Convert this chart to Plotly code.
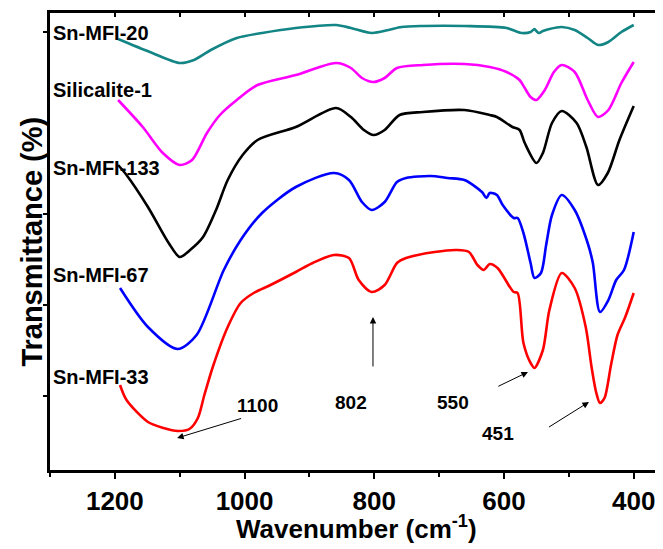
import plotly.graph_objects as go

# ---------------- data ----------------
wn_20 = [1195, 1146, 1100, 1078, 1052, 1012, 973, 921, 859, 836, 804, 778, 758, 725,
         661, 596, 573, 559, 553, 550, 546, 540, 530, 511, 491, 471, 455, 439, 419, 400]
t_20 = [431, 418, 407, 410, 420, 432, 437, 442, 445, 442, 437, 440, 443, 444,
        444, 442, 437, 438, 441, 439, 437, 439, 441, 443, 440, 432, 425, 428, 438, 445]

wn_s1 = [1195, 1157, 1126, 1100, 1081, 1058, 1038, 1012, 980, 921, 859, 836, 819, 801,
         784, 765, 725, 661, 622, 596, 576, 568, 559, 550, 537, 523, 511, 491, 471,
         455, 439, 419, 400]
t_s1 = [370, 343, 317, 305, 310, 337, 355, 370, 385, 395, 407, 402, 392, 388,
        392, 402, 405, 406, 403, 398, 390, 382, 373, 370, 380, 398, 405, 398, 370,
        353, 360, 387, 408]

wn_133 = [1195, 1182, 1149, 1117, 1100, 1084, 1064, 1044, 1026, 1003, 980, 921, 859,
          836, 816, 801, 784, 761, 725, 661, 622, 611, 587, 576, 568, 550, 540, 526,
          511, 488, 473, 455, 440, 422, 400]
t_133 = [305, 295, 263, 227, 213, 220, 233, 260, 290, 315, 330, 343, 362,
         353, 340, 335, 340, 355, 358, 360, 355, 353, 343, 340, 327, 307, 317, 347,
         359, 347, 323, 285, 297, 330, 364]

wn_67 = [1192, 1149, 1103, 1074, 1032, 1006, 973, 921, 862, 839, 819, 804, 784, 765,
         751, 713, 687, 661, 634, 627, 622, 611, 602, 585, 579, 570, 559, 553, 543,
         535, 526, 511, 491, 471, 463, 452, 439, 427, 415, 400]
t_67 = [182, 143, 121, 135, 200, 230, 257, 283, 297, 290, 268, 260, 268, 288,
        292, 294, 292, 290, 278, 272, 277, 275, 265, 252, 252, 237, 207, 192, 197,
        225, 255, 275, 260, 227, 207, 158, 170, 190, 200, 238]

wn_33 = [1192, 1182, 1149, 1125, 1103, 1085, 1072, 1062, 1048, 1026, 1006, 986, 960,
         921, 895, 862, 839, 824, 804, 784, 765, 751, 707, 673, 654, 641, 631, 622,
         610, 591, 585, 579, 570, 559, 553, 540, 530, 511, 491, 474, 465, 458, 452,
         445, 435, 425, 413, 400]
t_33 = [85, 70, 48, 42, 39, 41, 52, 75, 105, 143, 167, 177, 185,
        198, 207, 215, 212, 190, 178, 185, 207, 212, 218, 220, 218, 205, 200, 206,
        202, 183, 178, 177, 127, 107, 102, 120, 160, 197, 182, 143, 103, 78, 67,
        72, 105, 135, 153, 177]

series = [
    ("Sn-MFI-20", wn_20, t_20, "#138585"),
    ("Silicalite-1", wn_s1, t_s1, "#ff00ff"),
    ("Sn-MFI-133", wn_133, t_133, "#000000"),
    ("Sn-MFI-67", wn_67, t_67, "#0000ff"),
    ("Sn-MFI-33", wn_33, t_33, "#ff0000"),
]

# curve labels: (text, y position)
label_text = ["Sn-MFI-20", "Silicalite-1", "Sn-MFI-133", "Sn-MFI-67", "Sn-MFI-33"]
label_y = [437, 380, 302, 195, 93]

# peak annotations
peak_text = ["1100", "802", "550", "451"]
peak_text_x = [980, 836, 679, 610]
peak_text_y = [65, 68, 68, 37]
arrow_head_x = [1104, 802, 563, 469]
arrow_head_y = [32, 153, 98, 68]
arrow_tail_x = [1003, 802, 611, 533]
arrow_tail_y = [52, 102, 83, 42]

x_range = [1300, 361]
y_range = [0, 457]
x_ticks = [1200, 1000, 800, 600, 400]

FONT = "Arial, Liberation Sans, sans-serif"

fig = go.Figure()
for name, wx, ty, col in series:
    fig.add_trace(go.Scatter(x=wx, y=ty, mode="lines", name=name,
                             line=dict(color=col, width=2.6, shape="spline", smoothing=0.8),
                             showlegend=False, hoverinfo="skip"))
# empty trace to create overlay (top/right) axes
fig.add_trace(go.Scatter(x=[], y=[], xaxis="x2", yaxis="y2", showlegend=False))

for txt, yy in zip(label_text, label_y):
    fig.add_annotation(text=txt, xref="paper", x=0, xanchor="left", xshift=1,
                       yref="y", y=yy, yanchor="middle", showarrow=False,
                       font=dict(family=FONT, size=20, color="black", weight="bold"))

for txt, xx, yy in zip(peak_text, peak_text_x, peak_text_y):
    fig.add_annotation(text=txt, x=xx, y=yy, xref="x", yref="y", showarrow=False,
                       font=dict(family=FONT, size=19, color="black", weight="bold"))

for hx, hy, tx, ty in zip(arrow_head_x, arrow_head_y, arrow_tail_x, arrow_tail_y):
    fig.add_annotation(text="", x=hx, y=hy, ax=tx, ay=ty, xref="x", yref="y",
                       axref="x", ayref="y", showarrow=True, arrowhead=2,
                       arrowsize=1.3, arrowwidth=1, arrowcolor="black")

# axis titles as annotations for exact placement
fig.add_annotation(text="Wavenumber (cm<sup>-1</sup>)", xref="paper", yref="paper",
                   x=0.5025, y=-0.125, xanchor="center", yanchor="middle", showarrow=False,
                   font=dict(family=FONT, size=26, color="black", weight="bold"))
fig.add_annotation(text="Transmittance (%)", xref="paper", yref="paper",
                   x=-0.031, y=0.5, xanchor="center", yanchor="middle", showarrow=False,
                   textangle=-90,
                   font=dict(family=FONT, size=29, color="black", weight="bold"))

# the page body adds an 8px offset, so margins are shifted by 8px
fig.update_layout(
    width=663, height=549,
    margin=dict(l=42, r=12, t=5, b=87, autoexpand=False),
    paper_bgcolor="white", plot_bgcolor="white",
    xaxis=dict(range=x_range, tickvals=x_ticks, ticks="outside", ticklen=6,
               tickwidth=2, tickcolor="black", showline=True, linewidth=2.6,
               linecolor="black", showgrid=False, zeroline=False, automargin=False,
               minor=dict(dtick=100, tick0=1300, ticks="outside", ticklen=4,
                          tickwidth=2, tickcolor="black", showgrid=False),
               tickfont=dict(family=FONT, size=26, color="black", weight="bold")),
    yaxis=dict(range=y_range, tick0=74, dtick=91, ticks="outside", ticklen=4,
               tickwidth=2, tickcolor="black", showticklabels=False,
               showline=True, linewidth=2.6, linecolor="black", showgrid=False,
               zeroline=False, automargin=False),
    xaxis2=dict(range=x_range, overlaying="x", side="top", dtick=100, tick0=1300,
                ticks="inside", ticklen=4, tickwidth=2, tickcolor="black",
                showticklabels=False, showline=True, linewidth=2.6, linecolor="black",
                showgrid=False, zeroline=False, automargin=False),
    yaxis2=dict(range=y_range, overlaying="y", side="right", tick0=74, dtick=91,
                ticks="inside", ticklen=4, tickwidth=2, tickcolor="black",
                showticklabels=False, showline=True, linewidth=2.6, linecolor="black",
                showgrid=False, zeroline=False, automargin=False),
)

fig.write_html("out.html")
